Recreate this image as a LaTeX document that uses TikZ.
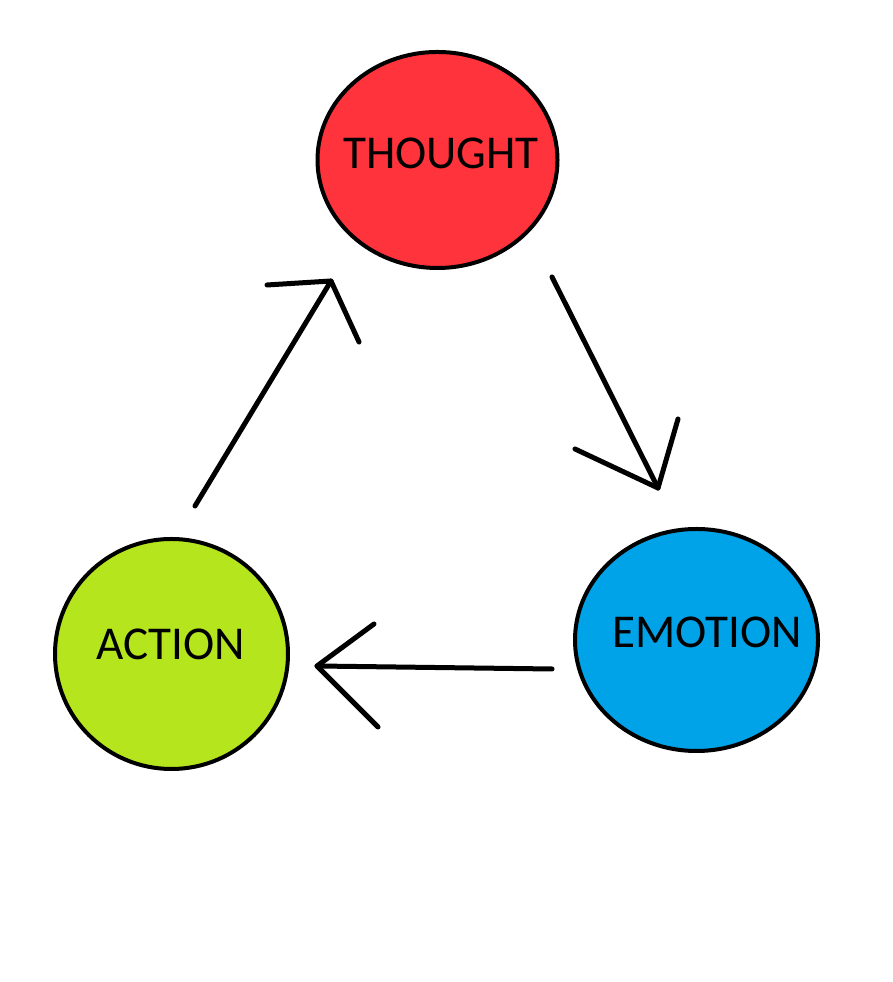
\documentclass[tikz,border=0pt]{standalone}
\usepackage{fontspec}
\setmainfont{Carlito}
\usetikzlibrary{shapes.geometric, positioning}
\definecolor{thoughtred}{RGB}{255,51,59}
\definecolor{emotionblue}{RGB}{0,162,232}
\definecolor{actiongreen}{RGB}{181,230,29}

\begin{document}
\begin{tikzpicture}
    [
        bubble/.style={draw, ellipse, line width=0.04cm, inner sep=0pt},
        tag/.style={inner sep=0pt, font=\fontsize{13.4}{16}\selectfont}
    ]
    \tikzstyle{stroke} = [draw, line width=0.05cm, line cap=round, line join=round]

    \useasboundingbox (0,0) rectangle (8.92,9.82);

    % The three states
    \node[bubble, fill=thoughtred, minimum width=2.40cm, minimum height=2.16cm] (thought) at (4.375,8.22) {};
    \node[bubble, fill=emotionblue, minimum width=2.43cm, minimum height=2.22cm] (emotion) at (6.965,3.42) {};
    \node[bubble, fill=actiongreen, minimum width=2.33cm, minimum height=2.30cm] (action) at (1.715,3.28) {};
    \node[tag] (thought_txt) at ([shift={(0.035,0.065)}]thought.center) {THOUGHT};
    \node[tag] (emotion_txt) at ([shift={(0.11,0.08)}]emotion.center) {EMOTION};
    \node[tag] (action_txt) at ([shift={(-0.005,0.10)}]action.center) {ACTION};

    % Arrow from action to thought
    \coordinate (act_out) at (1.95,4.76);
    \coordinate (tho_in) at (3.31,7.01);
    \coordinate (tho_in_l) at (2.67,6.97);
    \coordinate (tho_in_r) at (3.59,6.40);
    \path[stroke] (act_out) -- (tho_in);
    \path[stroke] (tho_in_l) -- (tho_in) -- (tho_in_r);

    % Arrow from thought to emotion
    \coordinate (tho_out) at (5.52,7.05);
    \coordinate (emo_in) at (6.58,4.94);
    \coordinate (emo_in_l) at (5.75,5.33);
    \coordinate (emo_in_r) at (6.78,5.63);
    \path[stroke] (tho_out) -- (emo_in);
    \path[stroke] (emo_in_l) -- (emo_in) -- (emo_in_r);

    % Arrow from emotion to action
    \coordinate (emo_out) at (5.52,3.13);
    \coordinate (act_in) at (3.17,3.16);
    \coordinate (act_in_l) at (3.74,3.58);
    \coordinate (act_in_r) at (3.78,2.55);
    \path[stroke] (emo_out) -- (act_in);
    \path[stroke] (act_in_l) -- (act_in) -- (act_in_r);
\end{tikzpicture}
\end{document}
